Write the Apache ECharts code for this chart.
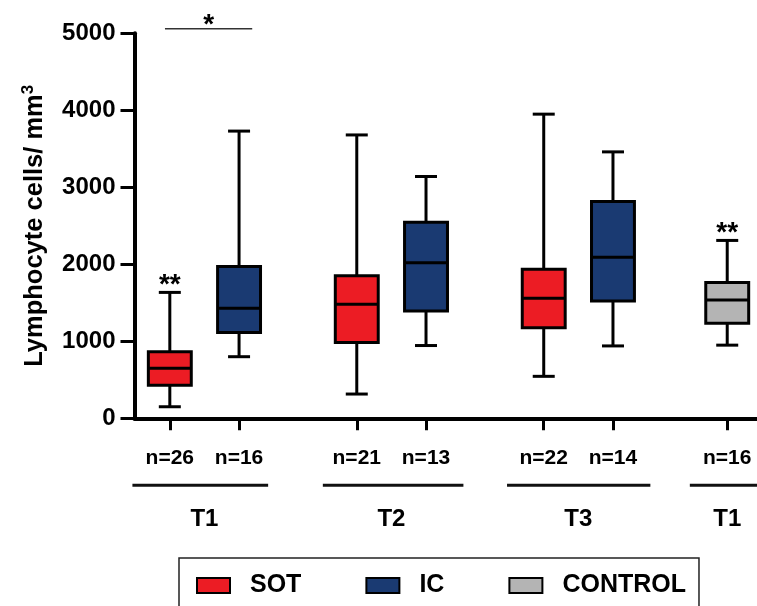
<!DOCTYPE html>
<html>
<head>
<meta charset="utf-8">
<script src="https://cdn.jsdelivr.net/npm/echarts@6/dist/echarts.min.js"></script>
<style>
  html, body { margin: 0; padding: 0; background: #fff; }
  #chart { width: 757px; height: 606px; }
</style>
</head>
<body>
<div id="chart"></div>
<script>
// box positions on the x axis (value axis, pairs then a gap)
const boxPos = [1, 2, 3.7, 4.7, 6.4, 7.4, 9.05];
const nCounts = [26, 16, 21, 13, 22, 14, 16];

// [x, min, q1, median, q3, max]
const sotBoxes = [
  [1,   150,  430,  650,  865, 1635],
  [3.7, 315,  985, 1480, 1850, 3680],
  [6.4, 545, 1175, 1560, 1935, 3950]
];
const icBoxes = [
  [2,   800, 1115, 1430, 1970, 3730],
  [4.7, 945, 1395, 2020, 2545, 3140],
  [7.4, 940, 1525, 2090, 2815, 3460]
];
const controlBoxes = [
  [9.05, 950, 1235, 1535, 1765, 2310]
];

// groups under the axis
const groupLabels = ['T1', 'T2', 'T3', 'T1'];
const groupStart = [0.46, 3.21, 5.87, 8.51];
const groupEnd = [2.42, 5.24, 7.94, 9.7];
const groupCenter = [1.5, 4.2, 6.9, 9.05];

// significance marks: [x, y] of the whisker top they sit on
const starText = ['**', '**'];
const starAt = [[1, 1635], [9.05, 2310]];
const bracketX = [0.93, 2.19];
const bracketY = 5060;

const FONT = 'Arial, "Liberation Sans", sans-serif';
const RED = '#ec1c24';
const BLUE = '#1a3a72';
const GREY = '#b4b4b4';
const BOX_W = 0.62;

const chart = echarts.init(document.getElementById('chart'));

function renderBox(params, api) {
  const x = api.value(0);
  const cx = api.coord([x, 0])[0];
  const yMin = api.coord([x, api.value(1)])[1];
  const yQ1 = api.coord([x, api.value(2)])[1];
  const yMed = api.coord([x, api.value(3)])[1];
  const yQ3 = api.coord([x, api.value(4)])[1];
  const yMax = api.coord([x, api.value(5)])[1];
  const w = api.size([BOX_W, 0])[0];
  const half = w / 2;
  const cap = 11;
  const ls = { stroke: '#000', lineWidth: 3 };
  return {
    type: 'group',
    children: [
      { type: 'line', shape: { x1: cx, y1: yMax, x2: cx, y2: yQ3 }, style: ls },
      { type: 'line', shape: { x1: cx, y1: yQ1, x2: cx, y2: yMin }, style: ls },
      { type: 'line', shape: { x1: cx - cap, y1: yMax, x2: cx + cap, y2: yMax }, style: ls },
      { type: 'line', shape: { x1: cx - cap, y1: yMin, x2: cx + cap, y2: yMin }, style: ls },
      { type: 'rect', shape: { x: cx - half, y: yQ3, width: w, height: yQ1 - yQ3 },
        style: { fill: api.visual('color'), stroke: '#000', lineWidth: 3 } },
      { type: 'line', shape: { x1: cx - half, y1: yMed, x2: cx + half, y2: yMed }, style: ls }
    ]
  };
}

function boxSeries(name, data, color) {
  return {
    name: name,
    type: 'custom',
    data: data,
    itemStyle: { color: color },
    encode: { x: 0, y: [1, 2, 3, 4, 5] },
    renderItem: renderBox,
    clip: false
  };
}

const option = {
  animation: false,
  backgroundColor: '#fff',
  grid: { left: 134.5, right: 0, top: 33.3, bottom: 187.7 },
  xAxis: {
    type: 'value',
    min: 0.49,
    max: 9.48,
    splitLine: { show: false },
    axisLine: { lineStyle: { color: '#000', width: 4 } },
    axisTick: { customValues: boxPos, length: 12, lineStyle: { color: '#000', width: 3 } },
    axisLabel: {
      customValues: boxPos,
      margin: 29,
      fontSize: 21,
      fontWeight: 'bold',
      fontFamily: FONT,
      color: '#000',
      formatter: function (v) {
        let best = 0;
        boxPos.forEach(function (p, i) {
          if (Math.abs(p - v) < Math.abs(boxPos[best] - v)) best = i;
        });
        return 'n=' + nCounts[best];
      }
    }
  },
  yAxis: {
    type: 'value',
    min: 0,
    max: 5000,
    interval: 1000,
    splitLine: { show: false },
    axisLine: { show: true, lineStyle: { color: '#000', width: 4 } },
    axisTick: { show: true, length: 14, lineStyle: { color: '#000', width: 3 } },
    axisLabel: {
      margin: 19, fontSize: 24, fontWeight: 'bold', fontFamily: FONT, color: '#000',
      formatter: function (v) { return String(v); }
    },
    name: '{a|Lymphocyte cells/ mm}{s|3}',
    nameLocation: 'middle',
    nameRotate: 90,
    nameGap: 85,
    nameTextStyle: {
      rich: {
        a: { fontSize: 25.5, fontWeight: 'bold', fontFamily: FONT, color: '#000', lineHeight: 30 },
        s: { fontSize: 17, fontWeight: 'bold', fontFamily: FONT, color: '#000', verticalAlign: 'top', lineHeight: 30 }
      }
    }
  },
  legend: {
    left: 179,
    top: 558,
    padding: [15, 13, 30, 17],
    borderColor: '#222',
    borderWidth: 1.5,
    icon: 'rect',
    itemWidth: 33,
    itemHeight: 15,
    itemGap: 64,
    textStyle: { fontSize: 25, fontWeight: 'bold', fontFamily: FONT, color: '#000', padding: [0, 0, 0, 15] },
    data: [
      { name: 'SOT', itemStyle: { color: RED, borderColor: '#000', borderWidth: 2 } },
      { name: 'IC', itemStyle: { color: BLUE, borderColor: '#000', borderWidth: 2 } },
      { name: 'CONTROL', itemStyle: { color: GREY, borderColor: '#000', borderWidth: 2 } }
    ]
  },
  series: [
    boxSeries('SOT', sotBoxes, RED),
    boxSeries('IC', icBoxes, BLUE),
    boxSeries('CONTROL', controlBoxes, GREY),
    {
      // group lines and time labels under the axis
      type: 'custom',
      silent: true,
      clip: false,
      data: groupCenter.map(function (c, i) { return [c, 0, groupStart[i], groupEnd[i]]; }),
      encode: { x: 0, y: 1 },
      renderItem: function (params, api) {
        const y0 = api.coord([api.value(0), 0])[1];
        const cx = api.coord([api.value(0), 0])[0];
        const x1 = api.coord([api.value(2), 0])[0];
        const x2 = api.coord([api.value(3), 0])[0];
        return {
          type: 'group',
          children: [
            { type: 'line', shape: { x1: x1, y1: y0 + 67, x2: x2, y2: y0 + 67 },
              style: { stroke: '#111', lineWidth: 3 } },
            { type: 'text', x: cx, y: y0 + 101,
              style: { text: groupLabels[params.dataIndex], align: 'center', verticalAlign: 'middle',
                fontSize: 24, fontWeight: 'bold', fontFamily: FONT, fill: '#000' } }
          ]
        };
      }
    },
    {
      // asterisks above whiskers
      type: 'custom',
      silent: true,
      clip: false,
      data: starAt,
      renderItem: function (params, api) {
        const p = api.coord([api.value(0), api.value(1)]);
        return { type: 'text', x: p[0], y: p[1] - 14 + 7,
          style: { text: starText[params.dataIndex], align: 'center', verticalAlign: 'middle',
            fontSize: 28, fontWeight: 'bold', fontFamily: FONT, fill: '#000' } };
      }
    },
    {
      // significance bracket between SOT and IC at T1
      type: 'custom',
      silent: true,
      clip: false,
      data: [[bracketX[0], bracketY, bracketX[1]]],
      renderItem: function (params, api) {
        const a = api.coord([api.value(0), api.value(1)]);
        const b = api.coord([api.value(2), api.value(1)]);
        return {
          type: 'group',
          children: [
            { type: 'line', shape: { x1: a[0], y1: a[1], x2: b[0], y2: b[1] },
              style: { stroke: '#333', lineWidth: 1.5 } },
            { type: 'text', x: (a[0] + b[0]) / 2, y: a[1] - 10 + 7,
              style: { text: '*', align: 'center', verticalAlign: 'middle',
                fontSize: 28, fontWeight: 'bold', fontFamily: FONT, fill: '#000' } }
          ]
        };
      }
    }
  ]
};

chart.setOption(option);
</script>
</body>
</html>
